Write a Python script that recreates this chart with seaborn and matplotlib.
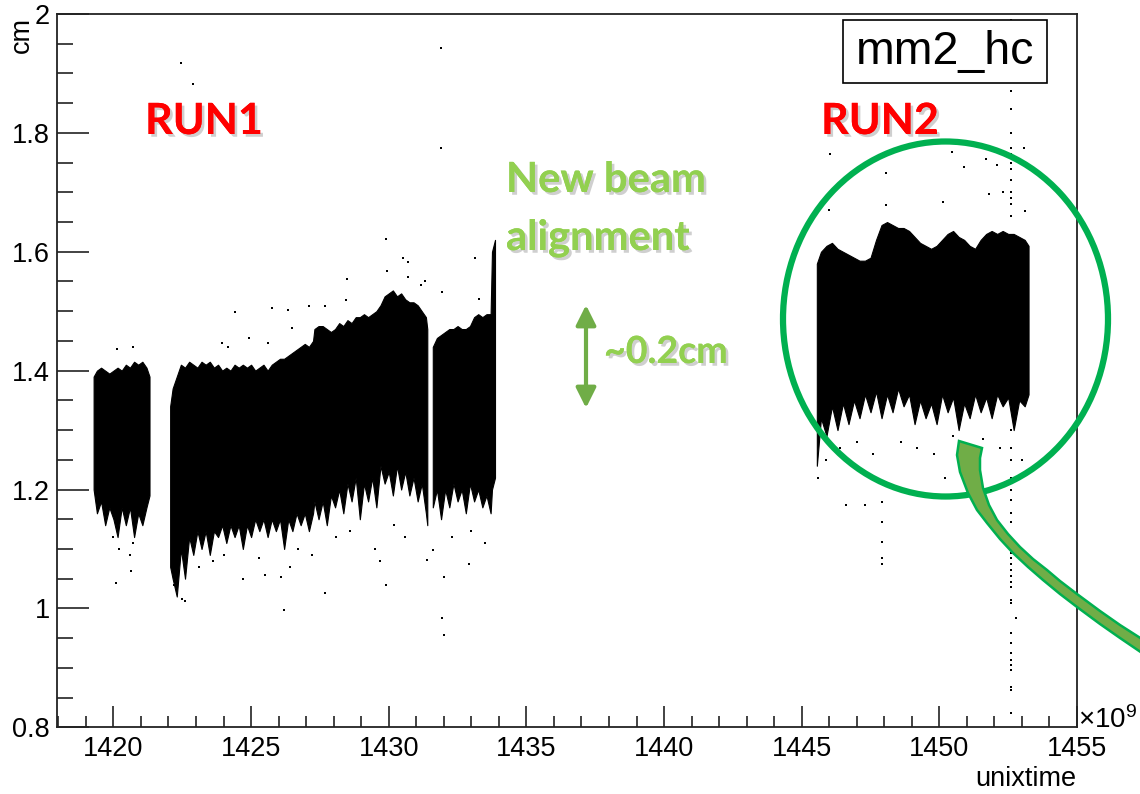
import matplotlib
matplotlib.use("Agg")
import matplotlib.pyplot as plt
import matplotlib.patches as mpatches
import matplotlib.patheffects as pe
from matplotlib.ticker import MultipleLocator, FuncFormatter
import seaborn as sns

# ---------------- data ----------------
# RUN1, first short block
run1a_x = [1419.28, 1419.4, 1419.55, 1419.7, 1419.85, 1420.0, 1420.15, 1420.3,
           1420.45, 1420.6, 1420.75, 1420.9, 1421.05, 1421.2, 1421.31]
run1a_hi = [1.39, 1.40, 1.405, 1.40, 1.395, 1.40, 1.405, 1.40, 1.41, 1.405,
            1.415, 1.41, 1.415, 1.405, 1.39]
run1a_lo = [1.20, 1.16, 1.18, 1.14, 1.17, 1.15, 1.12, 1.17, 1.14, 1.17,
            1.12, 1.16, 1.14, 1.17, 1.19]

# RUN1, main block
run1b_x = [1422.06, 1422.15, 1422.3, 1422.45, 1422.6, 1422.75, 1422.9, 1423.05,
           1423.2, 1423.35, 1423.5, 1423.65, 1423.8, 1423.95, 1424.1, 1424.25,
           1424.4, 1424.55, 1424.7, 1424.85, 1425.0, 1425.15, 1425.3, 1425.45,
           1425.6, 1425.75, 1425.9, 1426.05, 1426.2, 1426.35, 1426.5, 1426.65,
           1426.8, 1426.95, 1427.1, 1427.25, 1427.3, 1427.45, 1427.6, 1427.75,
           1427.9, 1428.05, 1428.2, 1428.35, 1428.5, 1428.65, 1428.8, 1428.95,
           1429.1, 1429.25, 1429.4, 1429.55, 1429.7, 1429.85, 1430.0, 1430.15,
           1430.3, 1430.45, 1430.6, 1430.75, 1430.9, 1431.05, 1431.2, 1431.35,
           1431.40]
run1b_hi = [1.34, 1.37, 1.39, 1.41, 1.405, 1.415, 1.41, 1.405, 1.415, 1.41,
            1.415, 1.405, 1.41, 1.40, 1.405, 1.40, 1.41, 1.405, 1.41, 1.405,
            1.41, 1.40, 1.405, 1.41, 1.40, 1.41, 1.415, 1.42, 1.42, 1.425,
            1.43, 1.435, 1.44, 1.445, 1.44, 1.45, 1.47, 1.475, 1.475, 1.47,
            1.465, 1.47, 1.48, 1.475, 1.485, 1.48, 1.49, 1.49, 1.495, 1.49,
            1.495, 1.50, 1.51, 1.525, 1.53, 1.535, 1.525, 1.53, 1.52, 1.515,
            1.515, 1.51, 1.50, 1.49, 1.47]
run1b_lo = [1.07, 1.05, 1.02, 1.10, 1.05, 1.12, 1.09, 1.13, 1.10, 1.13,
            1.09, 1.13, 1.12, 1.14, 1.11, 1.14, 1.12, 1.14, 1.10, 1.14,
            1.12, 1.15, 1.13, 1.15, 1.12, 1.15, 1.13, 1.15, 1.10, 1.15,
            1.13, 1.16, 1.14, 1.16, 1.13, 1.16, 1.18, 1.15, 1.18, 1.14,
            1.19, 1.17, 1.20, 1.16, 1.21, 1.18, 1.22, 1.15, 1.21, 1.18,
            1.22, 1.17, 1.24, 1.21, 1.23, 1.19, 1.24, 1.20, 1.23, 1.19,
            1.22, 1.18, 1.21, 1.16, 1.14]

# RUN1, last block
run1c_x = [1431.6, 1431.75, 1431.9, 1432.05, 1432.2, 1432.35, 1432.5, 1432.65,
           1432.8, 1432.95, 1433.1, 1433.25, 1433.4, 1433.55, 1433.7, 1433.75,
           1433.86]
run1c_hi = [1.44, 1.455, 1.46, 1.465, 1.47, 1.47, 1.475, 1.47, 1.47, 1.475,
            1.49, 1.495, 1.49, 1.495, 1.495, 1.60, 1.62]
run1c_lo = [1.17, 1.20, 1.15, 1.20, 1.17, 1.21, 1.18, 1.20, 1.16, 1.21,
            1.18, 1.20, 1.17, 1.19, 1.16, 1.20, 1.22]

# RUN2 block
run2_x = [1445.55, 1445.7, 1445.9, 1446.1, 1446.3, 1446.5, 1446.7, 1446.9,
          1447.1, 1447.3, 1447.5, 1447.7, 1447.9, 1448.1, 1448.3, 1448.5,
          1448.7, 1448.9, 1449.1, 1449.3, 1449.5, 1449.7, 1449.9, 1450.1,
          1450.3, 1450.5, 1450.7, 1450.9, 1451.1, 1451.3, 1451.5, 1451.7,
          1451.9, 1452.1, 1452.3, 1452.5, 1452.7, 1452.9, 1453.1, 1453.24]
run2_hi = [1.58, 1.60, 1.61, 1.615, 1.605, 1.60, 1.595, 1.59, 1.585, 1.585,
           1.59, 1.62, 1.645, 1.65, 1.645, 1.64, 1.64, 1.635, 1.625, 1.615,
           1.61, 1.605, 1.61, 1.62, 1.63, 1.635, 1.625, 1.62, 1.61, 1.605,
           1.62, 1.63, 1.635, 1.63, 1.635, 1.63, 1.63, 1.625, 1.62, 1.61]
run2_lo = [1.24, 1.32, 1.29, 1.34, 1.30, 1.345, 1.31, 1.35, 1.32, 1.36,
           1.33, 1.365, 1.32, 1.36, 1.33, 1.37, 1.34, 1.36, 1.31, 1.35,
           1.32, 1.345, 1.31, 1.36, 1.33, 1.355, 1.30, 1.345, 1.32, 1.36,
           1.33, 1.355, 1.32, 1.36, 1.34, 1.355, 1.30, 1.35, 1.34, 1.36]

# isolated points
stray_x = [1422.46, 1422.9, 1431.9, 1431.9, 1431.93, 1432.0, 1426.21, 1427.7,
           1429.9, 1420.1, 1420.65, 1424.7, 1425.5, 1426.1, 1432.9, 1431.4,
           1431.6, 1432.0, 1422.5, 1422.6, 1429.9, 1430.5, 1430.7, 1429.95,
           1430.7, 1428.5, 1433.13, 1424.4, 1425.76, 1426.35, 1427.1, 1424.93,
           1425.6, 1423.96, 1424.16, 1420.13, 1420.72, 1426.5, 1431.16, 1431.3,
           1431.92, 1433.27, 1428.43, 1427.7, 1420.2, 1420.6, 1420.0, 1420.7,
           1422.2, 1423.1, 1423.6, 1424.0, 1425.3, 1426.4, 1426.7, 1427.2,
           1428.1, 1428.6, 1429.5, 1429.7, 1430.2, 1430.6, 1432.3, 1433.0,
           1433.5,
           1446.03, 1450.45, 1448.06, 1450.9, 1451.7, 1452.1, 1453.06, 1453.1,
           1450.15, 1451.8, 1452.3, 1448.05, 1446.0, 1446.6, 1447.3, 1447.9,
           1447.9, 1447.9, 1447.9, 1447.9, 1452.8, 1445.6, 1445.9, 1446.4,
           1447.0, 1447.6, 1448.6, 1449.2, 1449.8, 1450.5, 1451.0, 1451.6,
           1452.2, 1453.0, 1450.2]
stray_y = [1.918, 1.882, 1.943, 1.775, 0.984, 0.956, 0.997, 1.026,
           1.04, 1.043, 1.063, 1.05, 1.056, 1.053, 1.075, 1.082,
           1.098, 1.053, 1.016, 1.012, 1.621, 1.589, 1.583, 1.568,
           1.558, 1.554, 1.589, 1.499, 1.505, 1.502, 1.509, 1.455,
           1.447, 1.446, 1.44, 1.436, 1.44, 1.471, 1.544, 1.551,
           1.533, 1.52, 1.519, 1.509, 1.10, 1.09, 1.12, 1.11,
           1.04, 1.07, 1.08, 1.09, 1.085, 1.07, 1.10, 1.09,
           1.12, 1.13, 1.10, 1.08, 1.14, 1.12, 1.12, 1.13,
           1.11,
           1.764, 1.767, 1.733, 1.743, 1.756, 1.746, 1.775, 1.668,
           1.684, 1.697, 1.70, 1.679, 1.67, 1.174, 1.174, 1.179,
           1.146, 1.111, 1.085, 1.075, 0.984, 1.22, 1.25, 1.27,
           1.28, 1.26, 1.28, 1.27, 1.26, 1.29, 1.27, 1.285,
           1.27, 1.25, 1.22]

# the dotted column of points near the end of RUN2
column_x = 1452.6
column_y = [1.99, 1.87, 1.84, 1.80, 1.775, 1.765, 1.75, 1.74, 1.72, 1.70,
            1.69, 1.68, 1.66, 1.30, 1.27, 1.25, 1.22, 1.20, 1.182, 1.16,
            1.146, 1.118, 1.093, 1.085, 1.075, 1.065, 1.055, 1.045, 1.036,
            1.014, 1.009, 0.958, 0.942, 0.925, 0.913, 0.905, 0.896, 0.868,
            0.862, 0.824]

x_major_ticks = [1420, 1425, 1430, 1435, 1440, 1445, 1450, 1455]
y_major_ticks = [0.8, 1.0, 1.2, 1.4, 1.6, 1.8, 2.0]

# ---------------- figure ----------------
sns.set_theme(style="white")
plt.rcParams["font.family"] = ["Liberation Sans", "DejaVu Sans"]
plt.rcParams["mathtext.fontset"] = "custom"
plt.rcParams["mathtext.rm"] = "Liberation Sans"
plt.rcParams["mathtext.it"] = "Liberation Sans"
plt.rcParams["text.color"] = "black"
plt.rcParams["xtick.color"] = "black"
plt.rcParams["ytick.color"] = "black"
plt.rcParams["xtick.labelcolor"] = "black"
plt.rcParams["ytick.labelcolor"] = "black"

W, H = 1140, 794
fig = plt.figure(figsize=(W / 100, H / 100), dpi=100)
fig.patch.set_facecolor("white")


def fp(x, y):
    """pixel position (from top-left) -> figure fraction"""
    return x / W, 1 - y / H


ax_l, ax_r, ax_t, ax_b = 57, 1077, 14, 727.3
ax = fig.add_axes([ax_l / W, 1 - ax_b / H, (ax_r - ax_l) / W, (ax_b - ax_t) / H])
ax.set_facecolor("white")

# dense bands of points
for bx, blo, bhi in [(run1a_x, run1a_lo, run1a_hi),
                     (run1b_x, run1b_lo, run1b_hi),
                     (run1c_x, run1c_lo, run1c_hi),
                     (run2_x, run2_lo, run2_hi)]:
    ax.fill_between(bx, blo, bhi, color="black", lw=0.8, edgecolor="black",
                    zorder=2)

sns.scatterplot(x=stray_x, y=stray_y, ax=ax, color="black", marker="s",
                s=3.5, linewidth=0, zorder=3, legend=False)
sns.scatterplot(x=[column_x] * len(column_y), y=column_y, ax=ax,
                color="black", marker="s", s=3.5, linewidth=0, zorder=3,
                legend=False)

ax.set_xlim(1417.95, 1455)
ax.set_ylim(0.8, 2.0)
ax.set_xlabel("")
ax.set_ylabel("")

ax.set_xticks(x_major_ticks)
ax.set_yticks(y_major_ticks)
ax.xaxis.set_minor_locator(MultipleLocator(1))
ax.yaxis.set_minor_locator(MultipleLocator(0.05))
ax.yaxis.set_major_formatter(FuncFormatter(lambda v, p: f"{v:g}"))
ax.tick_params(axis="x", which="major", direction="in", length=15, width=1.2,
               color="#222222", labelsize=19.5, labelcolor="black", pad=6,
               bottom=True, top=False)
ax.tick_params(axis="x", which="minor", direction="in", length=8, width=1.2,
               color="#222222", bottom=True, top=False)
ax.tick_params(axis="y", which="major", direction="in", length=23, width=1.2,
               color="#222222", labelsize=19.5, labelcolor="black", pad=5,
               left=True, right=False)
ax.tick_params(axis="y", which="minor", direction="in", length=11.5,
               width=1.2, color="#222222", left=True, right=False)
for sp in ax.spines.values():
    sp.set_visible(True)
    sp.set_color("#222222")
    sp.set_linewidth(1.3)

# axis titles (ROOT style)
fig.text(*fp(1076, 779), "unixtime", ha="right", va="center", fontsize=19.5)
fig.text(*fp(1078, 728), r"$\times$10$^{9}$", ha="left", va="baseline",
         fontsize=20)
fig.text(*fp(22, 35), "cm", rotation=90, ha="center", va="center",
         fontsize=19.5)

# stats/title box
fig.add_artist(mpatches.Rectangle(fp(843, 83), 204 / W, 63 / H,
                                  transform=fig.transFigure, fc="white",
                                  ec="black", lw=1.2, zorder=5))
fig.text(*fp(945, 52), "mm2_hc", ha="center", va="center", fontsize=33.5,
         zorder=6)

# annotations
shadow = [pe.withSimplePatchShadow(offset=(2, -2), shadow_rgbFace="#777777",
                                   alpha=0.35), pe.Normal()]
fig.text(*fp(204, 121), "RUN1", ha="center", va="center", fontsize=31,
         fontweight="bold", family="Lato", color="#FF0000",
         path_effects=shadow)
fig.text(*fp(880, 121), "RUN2", ha="center", va="center", fontsize=31,
         fontweight="bold", family="Lato", color="#FF0000",
         path_effects=shadow)
fig.text(*fp(506, 192), "New beam", ha="left", va="baseline", fontsize=30,
         fontweight="bold", family="Lato", color="#92D050",
         path_effects=shadow)
fig.text(*fp(506, 250), "alignment", ha="left", va="baseline", fontsize=30,
         fontweight="bold", family="Lato", color="#92D050",
         path_effects=shadow)
fig.text(*fp(604, 363), "~0.2cm", ha="left", va="baseline", fontsize=27,
         fontweight="bold", family="Lato", color="#92D050",
         path_effects=shadow)

ax.annotate("", xy=(586, H - 305), xytext=(586, H - 408),
            xycoords="figure pixels", textcoords="figure pixels",
            arrowprops=dict(arrowstyle="<|-|>", color="#70AD47", lw=3,
                            mutation_scale=30, shrinkA=0, shrinkB=0))

# green ring around RUN2
fig.add_artist(mpatches.Ellipse(fp(945.5, 319), 325 / W, 355 / H,
                                transform=fig.transFigure, fill=False,
                                ec="#00B050", lw=4.5, zorder=7))

# curved pointer
outer = [(959, 441), (957, 455), (960, 472), (968, 493), (977, 510),
         (987, 523), (1000, 539), (1013, 553), (1028, 567), (1043, 580),
         (1060, 594), (1077, 607), (1100, 624), (1120, 638), (1145, 655)]
inner = [(1145, 641), (1120, 625), (1100, 611), (1077, 594), (1060, 581),
         (1047, 570), (1033, 559), (1020, 547), (1008, 534), (997, 520),
         (989, 505), (983, 488), (980, 470), (980, 458), (982, 448)]
poly = [fp(px, py) for px, py in outer + inner]
fig.add_artist(mpatches.Polygon(poly, closed=True, transform=fig.transFigure,
                                fc="#70AD47", ec="#00B050", lw=1.8, zorder=8))

fig.savefig("out.png", dpi=100, facecolor="white")
